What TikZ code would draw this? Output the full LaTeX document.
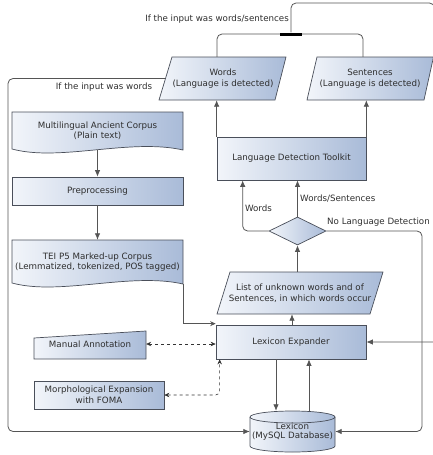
\documentclass[tikz,border=0pt]{standalone}
\usepackage{fontspec}
\setmainfont{DejaVu Sans}
\usetikzlibrary{shapes.geometric,arrows.meta,calc}
\definecolor{lightc}{HTML}{F2F5FA}
\definecolor{darkc}{HTML}{A9BBD8}
\definecolor{bordc}{HTML}{4A4F5A}
\definecolor{linec}{HTML}{555555}
\definecolor{txtc}{HTML}{2E2E2E}
\newcommand{\fs}{\fontsize{8.7}{10.5}\selectfont}
\tikzset{
  shp/.style={draw=bordc, left color=lightc, right color=darkc, line width=0.7pt},
  box/.style={shp, text=txtc, font=\fs, align=center, inner sep=0pt},
  txtnode/.style={text=txtc, font=\fs, align=center, inner sep=0pt},
  lbl/.style={text=txtc, font=\fs, inner sep=0pt},
  conn/.style={draw=linec, line width=0.8pt},
  arr/.style={conn, -{Latex[length=6.5pt,width=5.5pt]}},
  sarr/.style={conn, -{Stealth[length=5.5pt,width=5pt]}},
  darr/.style={draw=black!80, dashed, line width=0.6pt, {Stealth[length=5pt,width=4.5pt]}-{Stealth[length=5pt,width=4.5pt]}},
}
\begin{document}
\begin{tikzpicture}[x=1pt,y=-1pt]
\useasboundingbox (0,0) rectangle (433,455);
% ---------- shapes drawn directly ----------
% Words / Sentences parallelograms
\path[shp] (159,100) -- (275,100) -- (286,57) -- (172,57) -- cycle;
\path[shp] (307,100) -- (424,100) -- (433.5,57) -- (317,57) -- cycle;
% documents
\path[shp] (12,112) -- (183,112) -- (183,150) .. controls (130,138) and (60,162) .. (12,149) -- cycle;
\path[shp] (12,240) -- (183,240) -- (183,284) .. controls (130,272) and (60,296) .. (12,283) -- cycle;
% list parallelogram
\path[shp] (217,314) -- (370,314) -- (383,272) -- (230,272) -- cycle;
% manual input
\path[shp] (34,338) -- (146,331) -- (146,359) -- (34,359) -- cycle;
% cylinder
\path[shp] (250,417) -- (250,446) .. controls (250,449.3) and (269,452) .. (292.5,452)
  .. controls (316,452) and (335,449.3) .. (335,446) -- (335,417)
  .. controls (335,413.7) and (316,411) .. (292.5,411)
  .. controls (269,411) and (250,413.7) .. (250,417) -- cycle;
\draw[draw=bordc, line width=0.7pt] (250,417) .. controls (250,420.3) and (269,423) .. (292.5,423)
  .. controls (316,423) and (335,420.3) .. (335,417);
% ---------- nodes ----------
\node[txtnode, minimum width=115pt, minimum height=43pt] (words) at (223,78.5) {Words\\(Language is detected)};
\node[txtnode, minimum width=116pt, minimum height=43pt] (sents) at (370,78.5) {Sentences\\(Language is detected)};
\node[fill=black, inner sep=0pt, minimum width=22pt, minimum height=3pt] (bar) at (291,34) {};
\node[txtnode, minimum width=171pt, minimum height=38pt] (doc1) at (97.5,131) {Multilingual Ancient Corpus\\(Plain text)};
\node[box, minimum width=171pt, minimum height=28pt] (prep) at (97.5,191) {Preprocessing};
\node[txtnode, minimum width=171pt, minimum height=44pt] (tei) at (97.5,262) {TEI P5 Marked-up Corpus\\(Lemmatized, tokenized, POS tagged)};
\node[box, minimum width=149pt, minimum height=43pt] (ldt) at (291.5,158.5) {Language Detection Toolkit};
\node[diamond, shp, inner sep=0pt, minimum width=57pt, minimum height=28pt] (dia) at (297.5,231) {};
\node[txtnode, minimum width=153pt, minimum height=42pt] (list) at (300,293) {List of unknown words and of\\Sentences, in which words occur};
\node[box, minimum width=150pt, minimum height=34pt] (lex) at (291,342) {Lexicon Expander};
\node[txtnode, minimum width=112pt, minimum height=28pt] (man) at (90,344) {Manual Annotation};
\node[box, minimum width=130pt, minimum height=28pt] (morph) at (99,395) {Morphological Expansion\\with FOMA};
\node[txtnode, minimum width=85pt, minimum height=41pt] (db) at (292.5,431.5) {\raisebox{-1pt}{Lexicon}\\(MySQL Database)};
% labels
\node[lbl, anchor=east] (l1) at (289,19) {If the input was words/sentences};
\node[lbl] (l2) at (104,87) {If the input was words};
\node[lbl] (l3) at (258.5,208) {Words};
\node[lbl, anchor=west] (l4) at (300,199) {Words/Sentences};
\node[lbl, anchor=west] (l5) at (327,222) {No Language Detection};
% corner coordinates
\coordinate (tr) at (434.5,3);
\coordinate (lb) at (8,431.5);
\coordinate (rb) at (422,431.5);
% ---------- connectors ----------
\draw[conn, rounded corners=5pt] ([xshift=-6pt]words.north) |- (bar.west);
\draw[conn, rounded corners=5pt] (bar.east) -| ([xshift=-7pt]sents.north);
\draw[arr] (bar.north) [rounded corners=5pt] |- (tr) [sharp corners] |- (lex.east);
\draw[arr, rounded corners=5pt] (words.west) -| (lb) -- (db.west);
\draw[arr] (ldt.north west) -- (ldt.north west |- words.south);
\draw[arr] (ldt.north east) -- (ldt.north east |- sents.south);
\draw[arr, rounded corners=5pt] (dia.west) -| ([xshift=26pt]ldt.south west);
\draw[arr] (dia.north) -- (dia.north |- ldt.south);
\draw[arr, rounded corners=5pt] (dia.east) -| (rb) -- (db.east);
\draw[arr] (dia.south |- list.north) -- (dia.south);
\draw[arr] ([xshift=1pt]lex.north) -- ([xshift=1pt]lex.north |- list.south);
\draw[arr] (doc1.south) -- (prep.north);
\draw[arr] (prep.south) -- (tei.north);
\draw[sarr] (tei.south east) |- ([yshift=1pt]lex.north west);
\draw[darr] (man.east) -- (man.east -| lex.west);
\draw[darr, rounded corners=4pt] (morph.east) -| ([xshift=4pt]lex.south west);
\draw[arr] ([xshift=-15pt]lex.south) -- ([xshift=-16.5pt]db.north);
\draw[arr] ([xshift=16.5pt]db.north) -- ([xshift=18pt]lex.south);
\end{tikzpicture}
\end{document}
